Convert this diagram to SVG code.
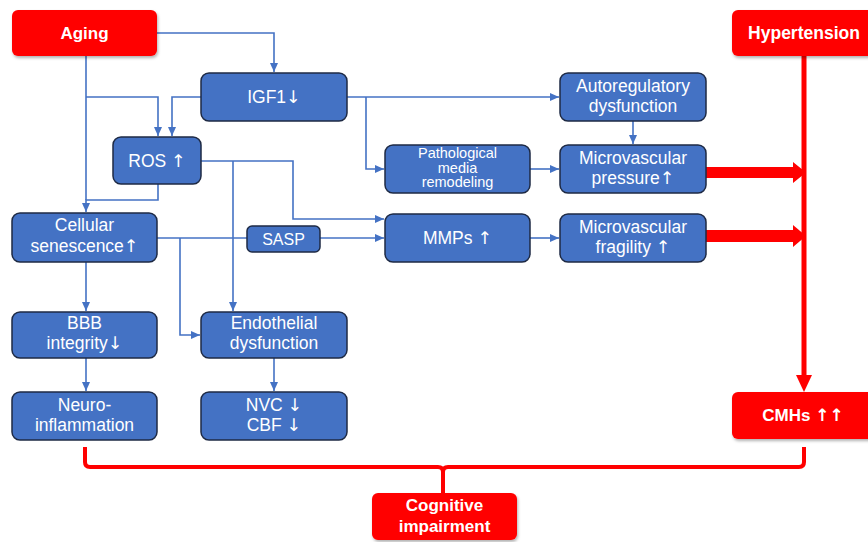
<svg xmlns="http://www.w3.org/2000/svg" width="868" height="542" viewBox="0 0 868 542">
<defs>
<style>
.b{fill:#4472C4;stroke:#1E2A44;stroke-width:1.5}
.r{fill:#FF0000;filter:url(#sh)}
.t{font-family:"Liberation Sans",Arial,sans-serif;font-size:17.5px;fill:#fff;text-anchor:middle}
.tb{font-family:"Liberation Sans",Arial,sans-serif;font-size:17px;font-weight:bold;fill:#fff;text-anchor:middle}
.ar{font-family:"DejaVu Sans",sans-serif;font-weight:normal}
.c{fill:none;stroke:#4472C4;stroke-width:1.6}
.ca{fill:none;stroke:#4472C4;stroke-width:1.6;marker-end:url(#ah)}
.rl{fill:none;stroke:#FF0000;stroke-width:4}
</style>
<marker id="ah" markerUnits="userSpaceOnUse" markerWidth="10" markerHeight="10" refX="9" refY="5" orient="auto">
<path d="M0,1 L9,5 L0,9 Z" fill="#4472C4"/>
</marker>
<filter id="sh" x="-10%" y="-10%" width="130%" height="140%">
<feDropShadow dx="1" dy="2" stdDeviation="1.5" flood-color="#000" flood-opacity="0.3"/>
</filter>
</defs>

<g id="connectors">
<path class="ca" d="M157,33 H274 V72"/>
<path class="c" d="M86,56 V200"/>
<path class="ca" d="M86,97 H158 V136"/>
<path class="ca" d="M201,97 H172 V136"/>
<path class="ca" d="M158,184 V200 H86 V212"/>
<path class="ca" d="M201,161 H293 V219 H384"/>
<path class="ca" d="M233,161 V311"/>
<path class="c" d="M157,238 H247"/>
<path class="ca" d="M320,238 H384"/>
<path class="ca" d="M180,238 V335 H200"/>
<path class="ca" d="M86,262 V311"/>
<path class="ca" d="M86,358 V391"/>
<path class="ca" d="M274,358 V391"/>
<path class="ca" d="M347,97 H559"/>
<path class="ca" d="M366,97 V169 H384"/>
<path class="ca" d="M633,121 V144"/>
<path class="ca" d="M530,169 H559"/>
<path class="ca" d="M530,238 H559"/>
<polygon fill="#FF0000" points="706,167 793,167 793,162 806,172.5 793,183 793,178 706,178"/>
<polygon fill="#FF0000" points="706,230 793,230 793,225 806,236 793,247 793,242 706,242"/>
<path fill="none" stroke="#FF0000" stroke-width="5" d="M804,56 V377"/>
<polygon fill="#FF0000" points="796,375 812,375 804,392"/>
<path class="rl" d="M85,447 V462 Q85,467 90,467 H438 Q443,467 443,472 V493 M443,472 Q443,467 448,467 H799 Q804,467 804,462 V447"/>
</g>

<g id="aging"><rect class="r" x="12" y="10" width="145" height="46" rx="6"/><text class="tb" x="84.5" y="39">Aging</text></g>
<g id="hypertension"><rect class="r" x="732" y="10" width="146" height="46" rx="6"/><text class="tb" x="804" y="39" style="font-size:17.5px">Hypertension</text></g>
<g id="igf1"><rect class="b" x="201" y="73" width="146" height="48" rx="8"/><text class="t" x="274" y="103">IGF1<tspan class="ar">↓</tspan></text></g>
<g id="ros"><rect class="b" x="113" y="137" width="88" height="47" rx="8"/><text class="t" x="157" y="167">ROS <tspan class="ar">↑</tspan></text></g>
<g id="autoregulatory"><rect class="b" x="560" y="73" width="146" height="48" rx="8"/><text class="t" x="633" y="92">Autoregulatory</text><text class="t" x="633" y="112">dysfunction</text></g>
<g id="pathological"><rect class="b" x="385" y="145" width="145" height="48" rx="8"/><text class="t" x="457.5" y="158" style="font-size:14.5px">Pathological</text><text class="t" x="457.5" y="172.5" style="font-size:14.5px">media</text><text class="t" x="457.5" y="187" style="font-size:14.5px">remodeling</text></g>
<g id="pressure"><rect class="b" x="560" y="145" width="146" height="48" rx="8"/><text class="t" x="633" y="164">Microvascular</text><text class="t" x="633" y="184">pressure<tspan class="ar">↑</tspan></text></g>
<g id="senescence"><rect class="b" x="12" y="213" width="145" height="49" rx="8"/><text class="t" x="84.5" y="231">Cellular</text><text class="t" x="84.5" y="252">senescence<tspan class="ar">↑</tspan></text></g>
<g id="sasp"><rect class="b" x="247" y="226" width="73" height="26" rx="5"/><text class="t" x="283.5" y="245" style="font-size:16px">SASP</text></g>
<g id="mmps"><rect class="b" x="385" y="214" width="145" height="48" rx="8"/><text class="t" x="457.5" y="244">MMPs <tspan class="ar">↑</tspan></text></g>
<g id="fragility"><rect class="b" x="560" y="214" width="146" height="48" rx="8"/><text class="t" x="633" y="233">Microvascular</text><text class="t" x="633" y="253">fragility <tspan class="ar">↑</tspan></text></g>
<g id="bbb"><rect class="b" x="12" y="312" width="145" height="46" rx="8"/><text class="t" x="84.5" y="329">BBB</text><text class="t" x="84.5" y="349">integrity<tspan class="ar">↓</tspan></text></g>
<g id="endothelial"><rect class="b" x="201" y="312" width="146" height="46" rx="8"/><text class="t" x="274" y="329">Endothelial</text><text class="t" x="274" y="349">dysfunction</text></g>
<g id="neuroinflammation"><rect class="b" x="12" y="392" width="145" height="48" rx="8"/><text class="t" x="84.5" y="411">Neuro-</text><text class="t" x="84.5" y="431">inflammation</text></g>
<g id="nvc"><rect class="b" x="201" y="392" width="146" height="48" rx="8"/><text class="t" x="274" y="411">NVC <tspan class="ar">↓</tspan></text><text class="t" x="274" y="431">CBF <tspan class="ar">↓</tspan></text></g>
<g id="cmhs"><rect class="r" x="732" y="392" width="146" height="47" rx="6"/><text class="tb" x="803" y="421">CMHs <tspan class="ar" style="font-weight:bold">↑↑</tspan></text></g>
<g id="cognitive"><rect class="r" x="372" y="493" width="145" height="47" rx="6"/><text class="tb" x="444.5" y="511">Cognitive</text><text class="tb" x="444.5" y="532">impairment</text></g>
</svg>
